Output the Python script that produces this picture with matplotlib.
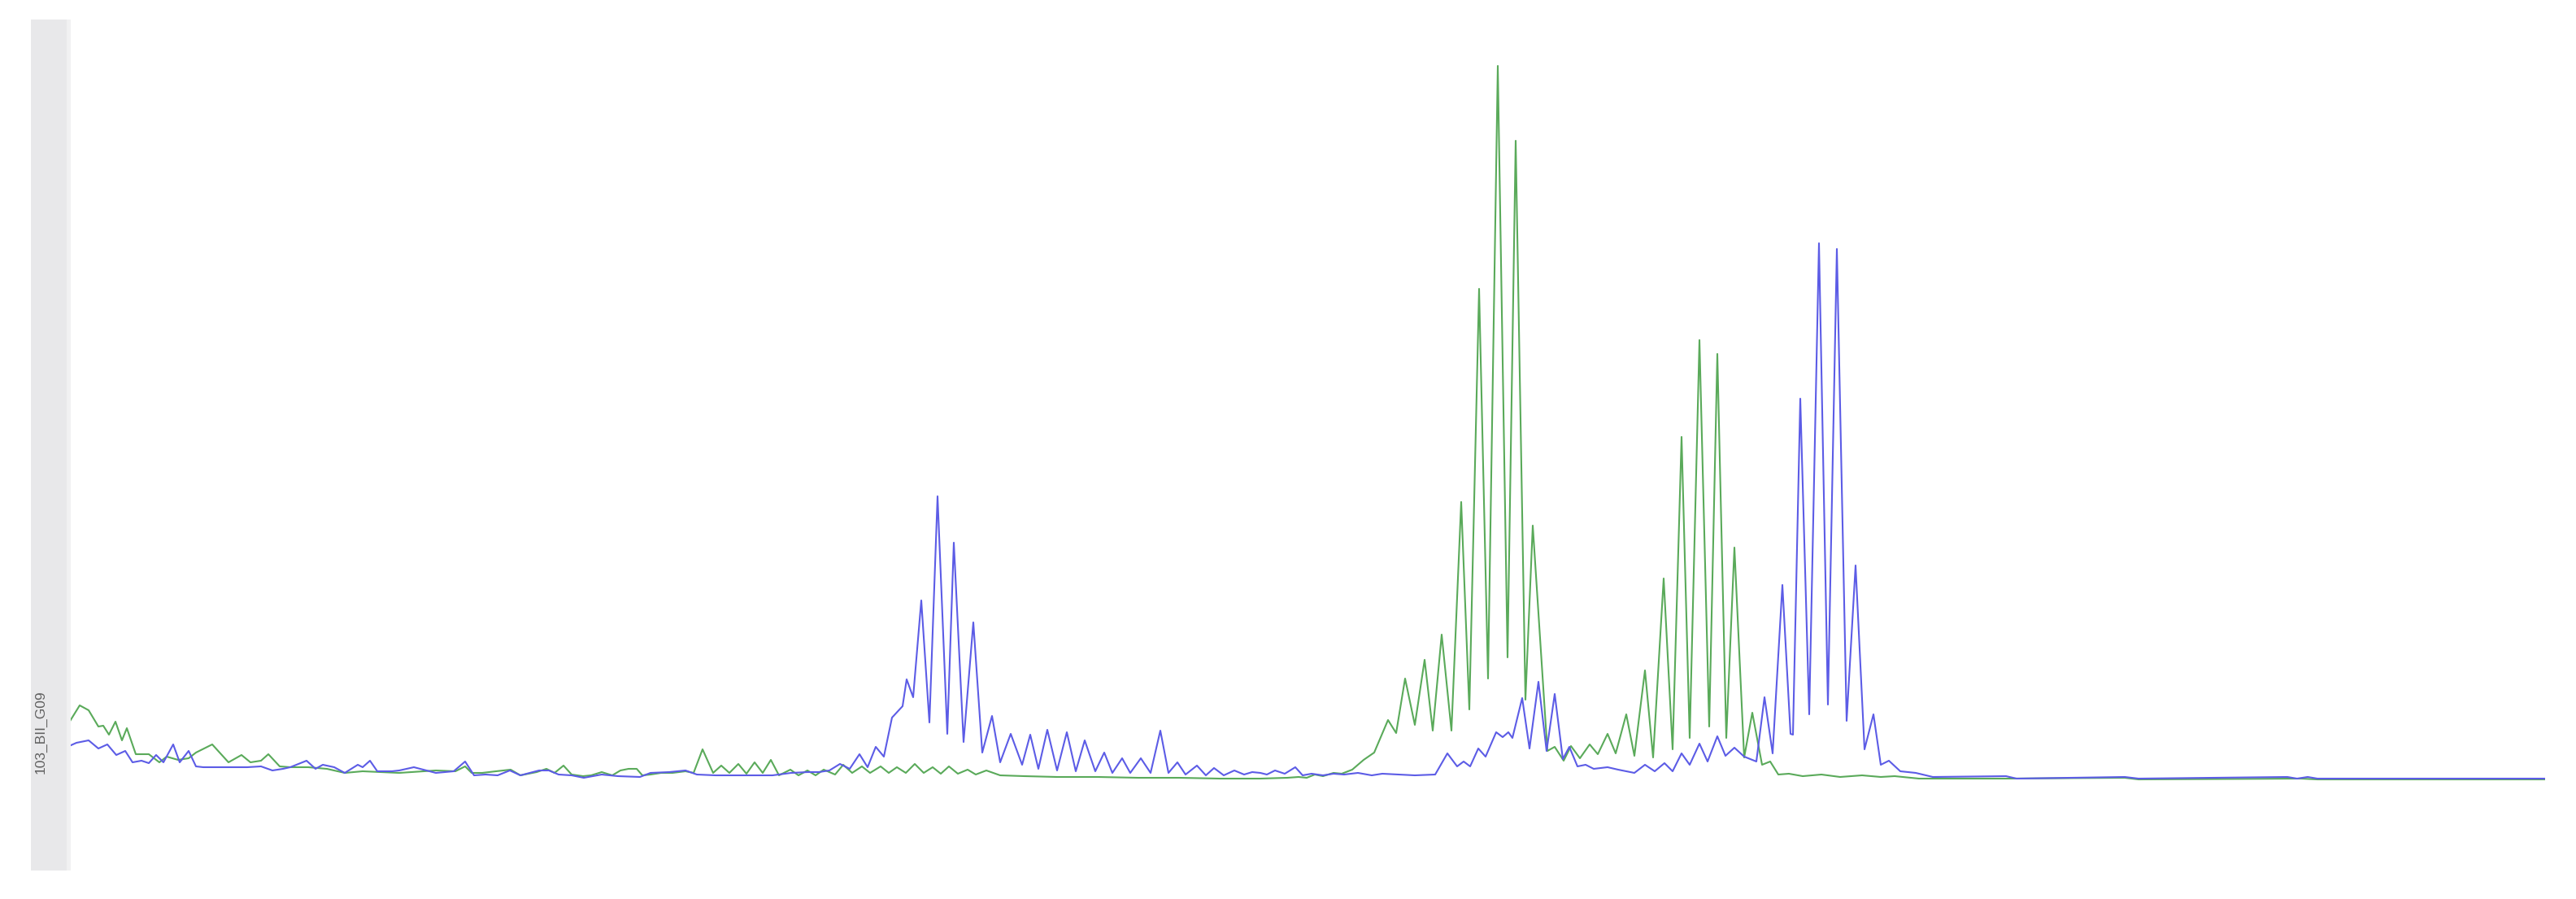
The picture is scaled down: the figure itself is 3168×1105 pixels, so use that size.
import matplotlib
matplotlib.use("Agg")
import matplotlib.pyplot as plt
from matplotlib.patches import Rectangle

### Trace data (scan number, RFU) ###
sample_name = "103_BII_G09"

green_scan = [0, 13, 24, 36, 42, 49, 57, 65, 71, 82, 98, 111, 120, 134, 147, 156, 176, 196, 212, 223,
              236, 245, 259, 272, 294, 317, 339, 361, 406, 451, 475, 487, 495, 508, 525, 543, 555, 575,
              587, 597, 608, 618, 632, 642, 655, 668, 678, 688, 698, 705, 715, 728, 742, 758, 768, 779,
              792, 802, 812, 823, 833, 843, 853, 863, 873, 887, 897, 908, 918, 928, 942, 952, 963, 975,
              985, 998, 1008, 1018, 1029, 1040, 1051, 1062, 1072, 1082, 1093, 1105, 1115, 1128, 1145,
              1175, 1215, 1265, 1315, 1365, 1415, 1465, 1498, 1512, 1522, 1532, 1542, 1555, 1565, 1578,
              1592, 1605, 1622, 1632, 1643, 1655, 1667, 1677, 1688, 1700, 1712, 1722, 1734, 1745, 1757,
              1769, 1779, 1791, 1800, 1818, 1827, 1838, 1847, 1858, 1870, 1880, 1892, 1902, 1915, 1925,
              1938, 1948, 1961, 1972, 1983, 1993, 2005, 2017, 2027, 2038, 2048, 2060, 2070, 2082, 2092,
              2102, 2115, 2132, 2155, 2178, 2205, 2228, 2245, 2275, 2382, 2528, 2545, 2745, 2765, 3045]
green_rfu = [700, 910, 850, 650, 660, 550, 710, 480, 630, 310, 310, 210, 280, 240, 260, 330, 430, 210, 300, 210,
             230, 310, 160, 150, 150, 130, 80, 100, 80, 110, 100, 160, 80, 80, 100, 120, 50, 90,
             130, 80, 170, 60, 40, 50, 90, 50, 110, 130, 130, 50, 60, 80, 80, 100, 80, 370,
             80, 170, 80, 190, 70, 210, 80, 240, 50, 120, 50, 110, 50, 120, 60, 180, 80, 160,
             80, 160, 80, 150, 80, 190, 80, 150, 70, 160, 70, 120, 60, 110, 50,
             40, 30, 30, 20, 20, 10, 10, 20, 30, 20, 60, 40, 80, 70, 120,
             240, 330, 730, 570, 1240, 670, 1470, 600, 1780, 600, 3410, 860, 6030, 1240, 8770,
             1500, 7850, 980, 3120, 350, 400, 230, 410, 260, 430, 310, 560, 320, 800, 290,
             1340, 270, 2470, 370, 4210, 510, 5400, 650, 5230, 510, 2850, 270, 820, 180, 220,
             60, 70, 40, 60, 30, 50, 30, 40, 10, 10, 20, 0, 10, 0, 0]

blue_scan = [0, 9, 24, 36, 47, 58, 69, 78, 89, 98, 107, 116, 128, 136, 147, 156, 165, 190, 219, 236,
             250, 263, 272, 292, 303, 312, 326, 339, 355, 361, 370, 379, 397, 406, 424, 451, 473, 487,
             498, 512, 527, 542, 555, 578, 590, 602, 618, 633, 655, 675, 702, 715, 738, 758, 772, 795,
             865, 888, 908, 922, 935, 948, 960, 972, 982, 992, 1002, 1012, 1025, 1030, 1038, 1048, 1058,
             1068, 1080, 1088, 1100, 1112, 1123, 1135, 1145, 1158, 1172, 1182, 1192, 1203, 1215, 1227,
             1238, 1249, 1262, 1273, 1283, 1295, 1305, 1318, 1330, 1342, 1352, 1363, 1373, 1387, 1398,
             1408, 1420, 1433, 1445, 1455, 1465, 1473, 1483, 1495, 1508, 1517, 1528, 1542, 1555, 1568,
             1585, 1602, 1615, 1655, 1680, 1695, 1707, 1715, 1723, 1733, 1742, 1755, 1763, 1770, 1775,
             1787, 1796, 1807, 1817, 1827, 1837, 1845, 1855, 1865, 1875, 1892, 1905, 1925, 1938, 1950,
             1962, 1972, 1983, 1993, 2005, 2015, 2027, 2037, 2048, 2060, 2075, 2085, 2095, 2107, 2117,
             2120, 2129, 2140, 2152, 2163, 2174, 2186, 2197, 2208, 2219, 2228, 2238, 2252, 2271, 2292,
             2382, 2395, 2528, 2545, 2728, 2740, 2753, 2765, 3045]
blue_rfu = [410, 450, 480, 380, 430, 300, 350, 210, 230, 200, 300, 210, 430, 210, 350, 160, 150, 150, 150, 160,
            110, 130, 150, 230, 130, 180, 150, 80, 180, 150, 230, 100, 100, 110, 150, 80, 100, 220,
            50, 60, 50, 110, 50, 110, 110, 60, 50, 20, 60, 40, 30, 80, 90, 110, 60, 50,
            50, 80, 90, 90, 110, 190, 130, 310, 150, 400, 280, 760, 900, 1230, 1010, 2200, 700,
            3480, 560, 2910, 460, 1930, 330, 780, 210, 560, 180, 550, 130, 610, 110, 580,
            100, 480, 100, 330, 80, 260, 80, 260, 80, 600, 80, 210, 60, 170, 50,
            140, 50, 110, 60, 90, 80, 60, 110, 70, 150, 50, 70, 50, 70, 60,
            80, 50, 70, 50, 60, 320, 160, 220, 160, 380, 280, 580, 520, 580, 510,
            1000, 380, 1200, 350, 1050, 250, 400, 160, 180, 130, 150, 120, 80, 180, 100,
            200, 100, 320, 180, 440, 220, 530, 290, 390, 280, 220, 1010, 320, 2390, 560,
            550, 4680, 800, 6590, 920, 6520, 720, 2630, 370, 800, 180, 230, 100, 80, 30,
            40, 10, 30, 10, 30, 10, 30, 10, 10]

W, H = 3168, 1105
fig = plt.figure(figsize=(W / 100, H / 100), dpi=100)

# grey sample strip on the left
fig.add_artist(Rectangle((38 / W, 1 - 1070 / H), 44 / W, 1046 / H,
                         transform=fig.transFigure, color="#e8e8ea", lw=0))
fig.add_artist(Rectangle((82 / W, 1 - 1070 / H), 5 / W, 1046 / H,
                         transform=fig.transFigure, color="#f1f1f2", lw=0))
fig.text(50 / W, 1 - 900 / H, sample_name, rotation=90, ha="center", va="center",
         fontsize=12.5, color="#606060", family=["Liberation Sans", "DejaVu Sans"])

ax = fig.add_axes([85 / W, 1 - 1070 / H, (3130 - 85) / W, (1070 - 24) / H])
ax.plot(green_scan, green_rfu, color="#5aaa5a", lw=1.5, solid_joinstyle="round")
ax.plot(blue_scan, blue_rfu, color="#5c5ce6", lw=1.5, solid_joinstyle="round")
ax.set_xlim(0, 3045)
ax.set_ylim(-1120, 9340)
ax.axis("off")

fig.savefig("out.png", dpi=100)
